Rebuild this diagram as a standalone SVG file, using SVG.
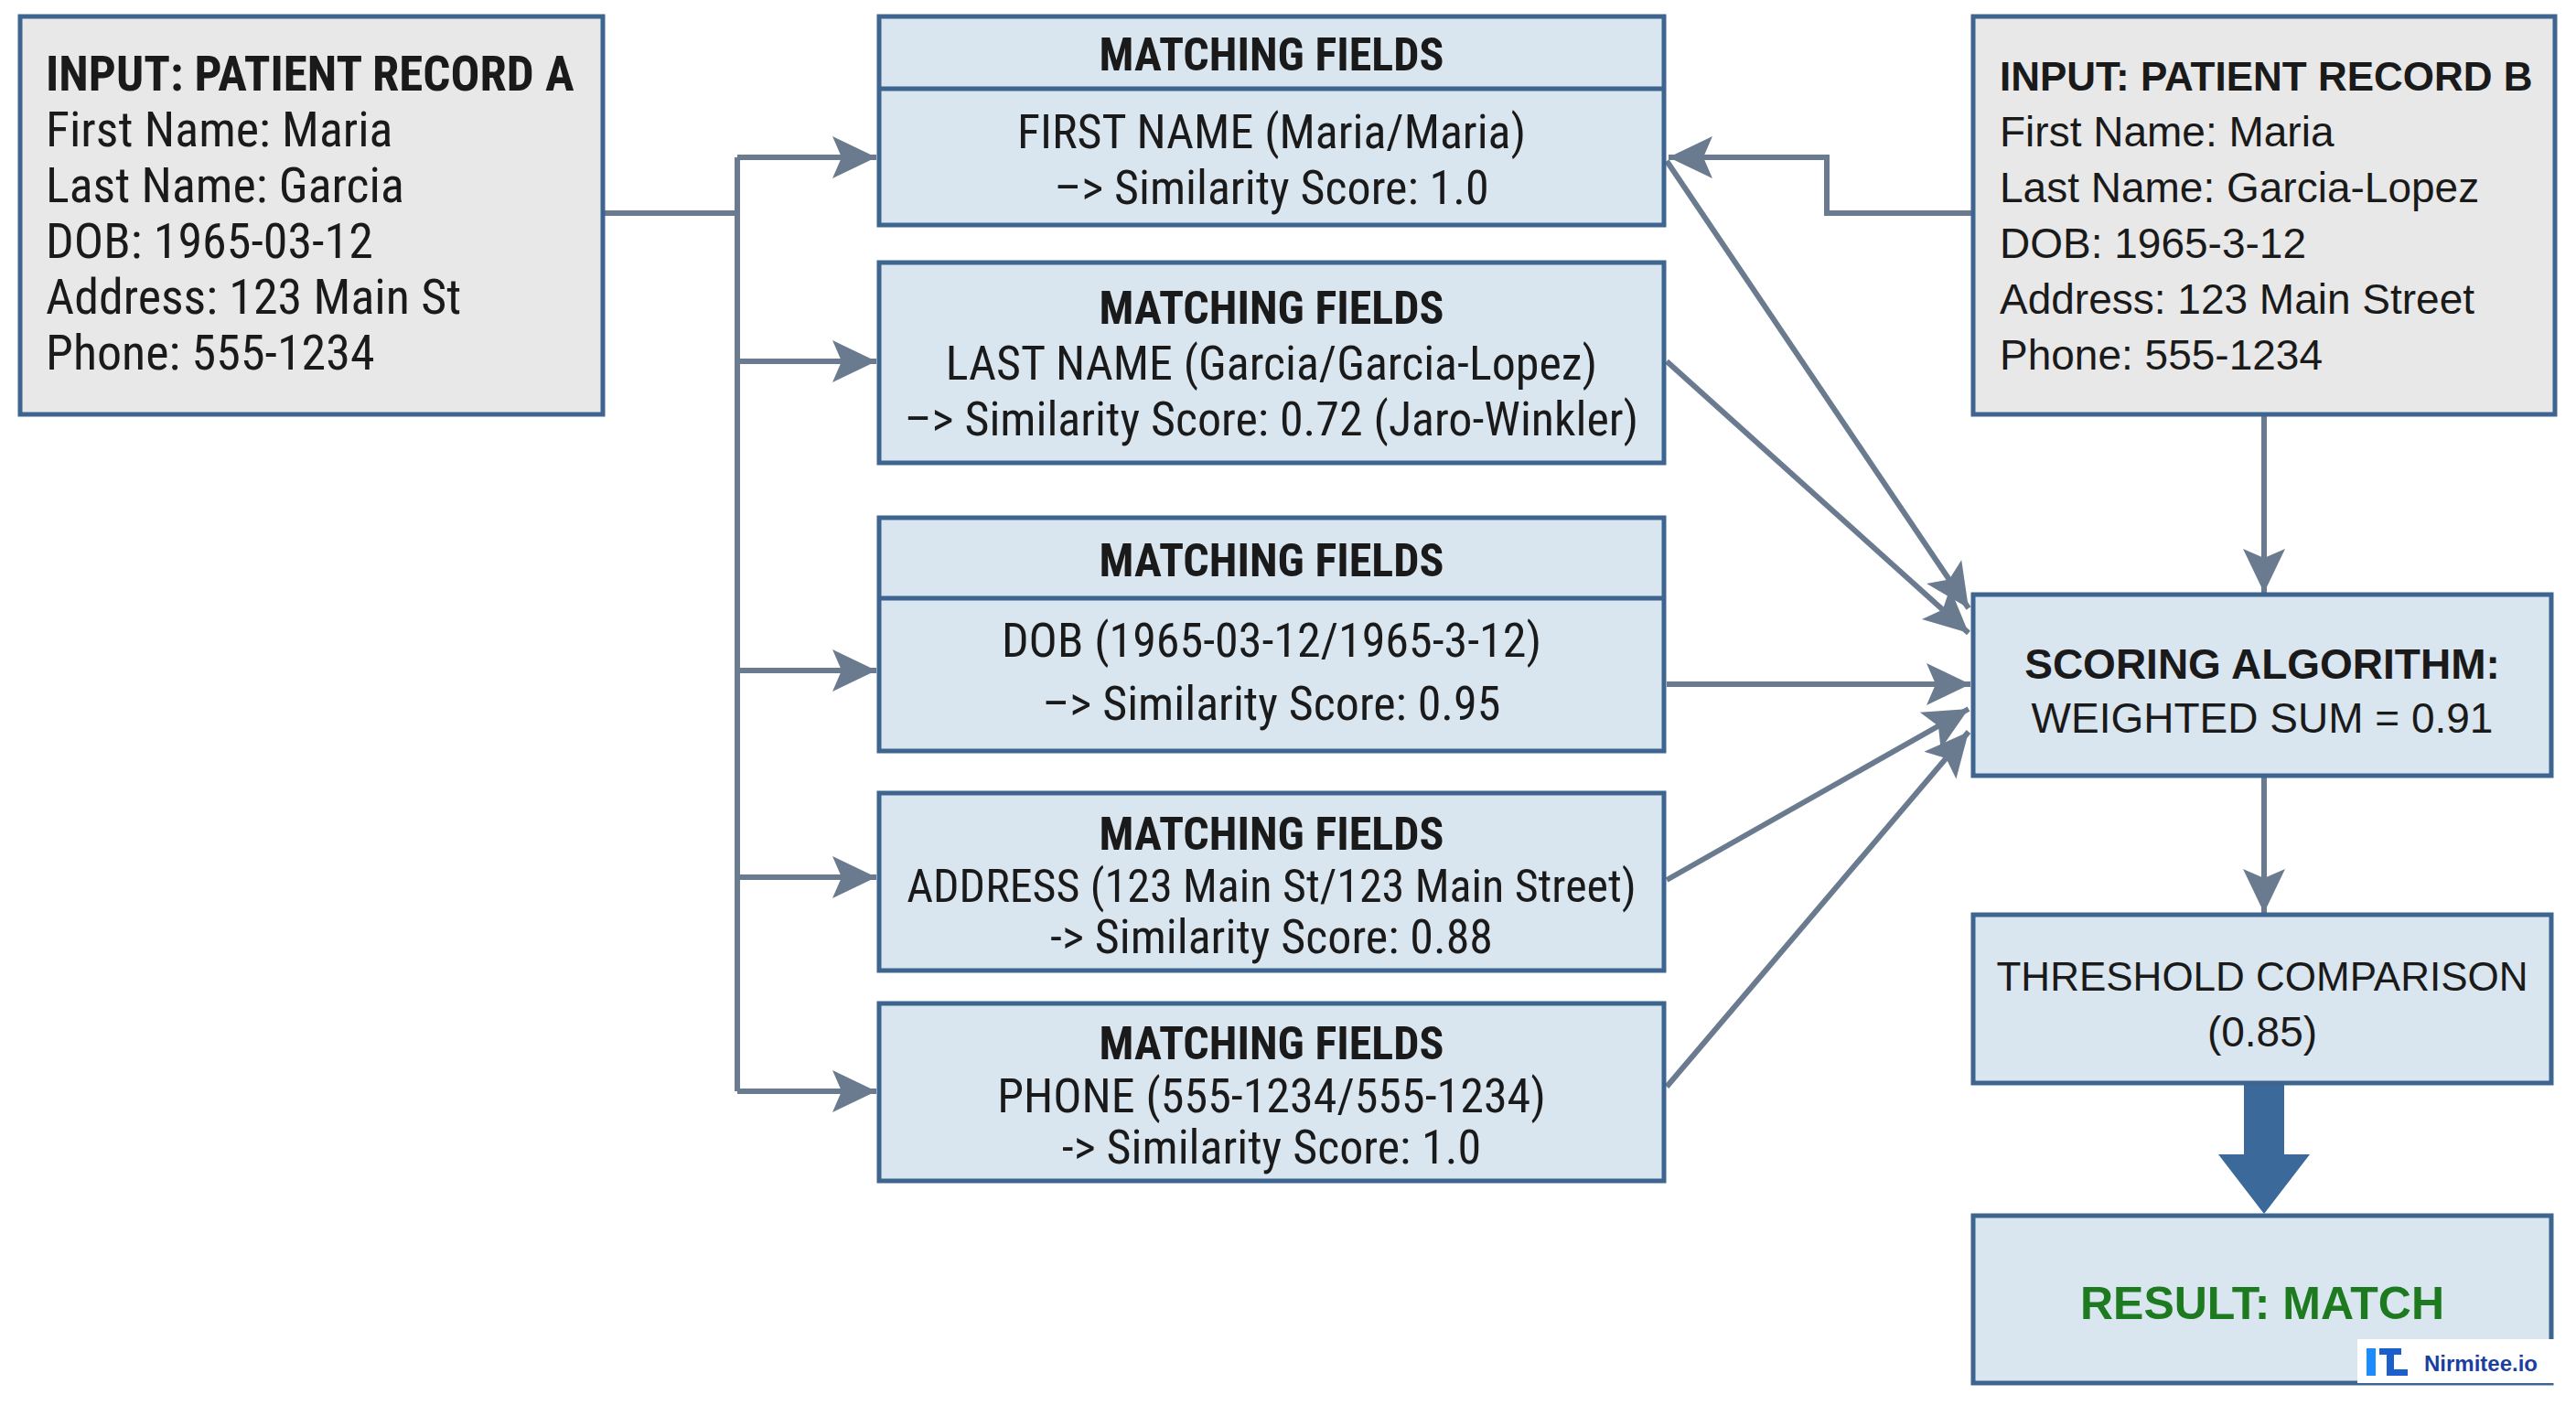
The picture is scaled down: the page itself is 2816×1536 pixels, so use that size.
<svg xmlns="http://www.w3.org/2000/svg" width="2816" height="1536" viewBox="0 0 2816 1536">
<style>
.bg{fill:#ffffff}
.grey{fill:#e8e8e8;stroke:#3d6590;stroke-width:5}
.blue{fill:#d9e5ef;stroke:#3d6590;stroke-width:5}
.n{font-family:"Liberation Sans Narrow","Roboto Condensed",Roboto,sans-serif;fill:#1a1a1a}
.w{font-family:"Liberation Sans","DejaVu Sans",sans-serif;fill:#1a1a1a}
.c{text-anchor:middle}
.b{font-weight:bold}
.conn{fill:none;stroke:#6b7b8f;stroke-width:6}
</style>
<defs>
<marker id="a" viewBox="0 0 50 50" refX="48" refY="25" markerWidth="50" markerHeight="50" markerUnits="userSpaceOnUse" orient="auto">
<path d="M0,2 L48,25 L0,48 L10,25 z" fill="#6b7b8f"/>
</marker>
</defs>
<rect class="bg" width="2816" height="1536"/>
<g id="connectors">
<path class="conn" d="M659,233 H806 M806,172 V1193"/>
<path class="conn" marker-end="url(#a)" d="M806,172 H958"/>
<path class="conn" marker-end="url(#a)" d="M806,395 H958"/>
<path class="conn" marker-end="url(#a)" d="M806,733 H958"/>
<path class="conn" marker-end="url(#a)" d="M806,959 H958"/>
<path class="conn" marker-end="url(#a)" d="M806,1193 H958"/>
<path class="conn" marker-end="url(#a)" d="M2157,233 H1997 V172 H1824"/>
<path class="conn" marker-end="url(#a)" d="M1822,176 L2152,665"/>
<path class="conn" marker-end="url(#a)" d="M1822,395 L2152,692"/>
<path class="conn" marker-end="url(#a)" d="M1822,748 H2154"/>
<path class="conn" marker-end="url(#a)" d="M1822,962 L2152,775"/>
<path class="conn" marker-end="url(#a)" d="M1822,1188 L2152,800"/>
<path class="conn" marker-end="url(#a)" d="M2475,455 V648"/>
<path class="conn" marker-end="url(#a)" d="M2475,850 V998"/>
<path d="M2453,1186 H2497 V1262 H2525 L2475,1327 L2425,1262 H2453 z" fill="#3b6a9a"/>
</g>
<g id="recordA">
<rect class="grey" x="22" y="18" width="637" height="435"/>
<text class="n b" x="50" y="99" font-size="53">INPUT: PATIENT RECORD A</text>
<text class="n" x="50" y="160" font-size="54">First Name: Maria</text>
<text class="n" x="50" y="221" font-size="54">Last Name: Garcia</text>
<text class="n" x="50" y="282" font-size="54">DOB: 1965-03-12</text>
<text class="n" x="50" y="343" font-size="54">Address: 123 Main St</text>
<text class="n" x="50" y="404" font-size="54">Phone: 555-1234</text>
</g>
<g id="match1">
<rect class="blue" x="961" y="18" width="858" height="228"/>
<line x1="961" y1="97" x2="1819" y2="97" stroke="#3d6590" stroke-width="5"/>
<text class="n b c" x="1390" y="77" font-size="50">MATCHING FIELDS</text>
<text class="n c" x="1390" y="162" font-size="52">FIRST NAME (Maria/Maria)</text>
<text class="n c" x="1390" y="223" font-size="52">–&gt; Similarity Score: 1.0</text>
</g>
<g id="match2">
<rect class="blue" x="961" y="287" width="858" height="219"/>
<text class="n b c" x="1390" y="354" font-size="50">MATCHING FIELDS</text>
<text class="n c" x="1390" y="415" font-size="52">LAST NAME (Garcia/Garcia-Lopez)</text>
<text class="n c" x="1390" y="476" font-size="52">–&gt; Similarity Score: 0.72 (Jaro-Winkler)</text>
</g>
<g id="match3">
<rect class="blue" x="961" y="566" width="858" height="255"/>
<line x1="961" y1="654" x2="1819" y2="654" stroke="#3d6590" stroke-width="5"/>
<text class="n b c" x="1390" y="630" font-size="50">MATCHING FIELDS</text>
<text class="n c" x="1390" y="718" font-size="52">DOB (1965-03-12/1965-3-12)</text>
<text class="n c" x="1390" y="787" font-size="52">–&gt; Similarity Score: 0.95</text>
</g>
<g id="match4">
<rect class="blue" x="961" y="867" width="858" height="194"/>
<text class="n b c" x="1390" y="929" font-size="50">MATCHING FIELDS</text>
<text class="n c" x="1390" y="986" font-size="50">ADDRESS (123 Main St/123 Main Street)</text>
<text class="n c" x="1390" y="1042" font-size="52">-&gt; Similarity Score: 0.88</text>
</g>
<g id="match5">
<rect class="blue" x="961" y="1097" width="858" height="194"/>
<text class="n b c" x="1390" y="1158" font-size="50">MATCHING FIELDS</text>
<text class="n c" x="1390" y="1216" font-size="52">PHONE (555-1234/555-1234)</text>
<text class="n c" x="1390" y="1272" font-size="52">-&gt; Similarity Score: 1.0</text>
</g>
<g id="recordB">
<rect class="grey" x="2157" y="18" width="636" height="435"/>
<text class="w b" x="2186" y="99" font-size="44">INPUT: PATIENT RECORD B</text>
<text class="w" x="2186" y="160" font-size="46">First Name: Maria</text>
<text class="w" x="2186" y="221" font-size="46">Last Name: Garcia-Lopez</text>
<text class="w" x="2186" y="282" font-size="46">DOB: 1965-3-12</text>
<text class="w" x="2186" y="343" font-size="46">Address: 123 Main Street</text>
<text class="w" x="2186" y="404" font-size="46">Phone: 555-1234</text>
</g>
<g id="scoring">
<rect class="blue" x="2157" y="650" width="632" height="198"/>
<text class="w b c" x="2473" y="742" font-size="46">SCORING ALGORITHM:</text>
<text class="w c" x="2473" y="801" font-size="46">WEIGHTED SUM = 0.91</text>
</g>
<g id="threshold">
<rect class="blue" x="2157" y="1000" width="632" height="184"/>
<text class="w c" x="2473" y="1083" font-size="44">THRESHOLD COMPARISON</text>
<text class="w c" x="2473" y="1144" font-size="46">(0.85)</text>
</g>
<g id="result">
<rect class="blue" x="2157" y="1329" width="632" height="183"/>
<text class="w b c" x="2473" y="1442" font-size="50" style="fill:#1e7a1e">RESULT: MATCH</text>
</g>
<g id="logo">
<rect x="2577" y="1464" width="216" height="48" fill="#ffffff"/>
<rect x="2587" y="1474" width="10" height="30" fill="#1a8cff"/>
<path d="M2601,1474 H2625 V1481 H2617 V1497 H2632 V1504 H2609 V1481 H2601 z" fill="#1a5fcc"/>
<text class="w b" x="2650" y="1499" font-size="24" style="fill:#1a3fa0">Nirmitee.io</text>
</g>
</svg>
